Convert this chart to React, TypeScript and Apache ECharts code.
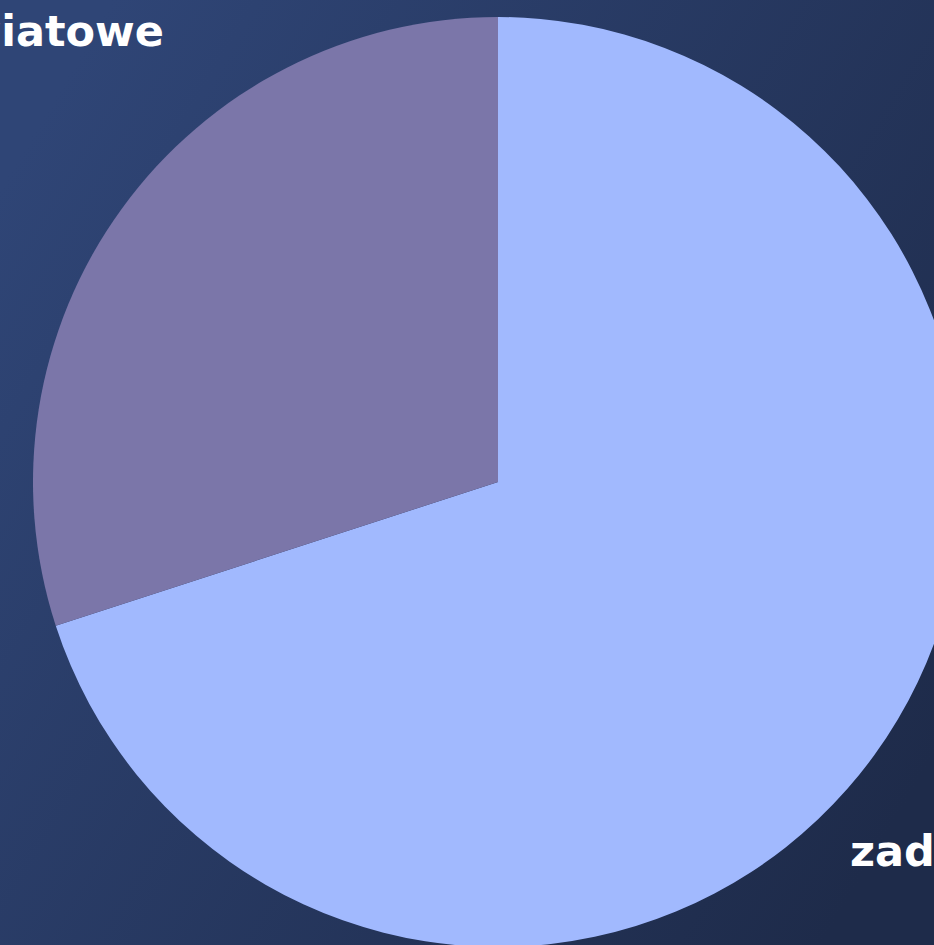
import React, { useEffect, useRef } from "react";
import * as echarts from "echarts";

const categories = ["zadania domowe", "Wydarzenia światowe"];
const values = [70, 30];
const colors = ["#a1b9fe", "#7b76a9"];

export default function App() {
  const ref = useRef<HTMLDivElement>(null);
  useEffect(() => {
    if (!ref.current) return;
    const chart = echarts.init(ref.current, null, { renderer: "svg" });
    chart.setOption({
      animation: false,
      backgroundColor: new echarts.graphic.LinearGradient(0, 0.2, 1, 0.8, [
        { offset: 0, color: "#2f4576" },
        { offset: 1, color: "#1e2b4a" },
      ]),
      series: [
        {
          type: "pie",
          center: [498, 482],
          radius: 465,
          startAngle: 90,
          clockwise: true,
          data: categories.map((name, i) => ({
            name,
            value: values[i],
            itemStyle: { color: colors[i] },
          })),
          label: {
            show: true,
            position: "inside",
            overflow: "none",
            color: "#ffffff",
            fontFamily: "'DejaVu Sans', sans-serif",
            fontWeight: "bold",
            fontSize: 43,
            formatter: "{b}",
          },
          labelLine: { show: false },
          labelLayout: (params: any) =>
            params.dataIndex === 0
              ? { x: 850, y: 851, align: "left", verticalAlign: "middle" }
              : { x: 164, y: 31, align: "right", verticalAlign: "middle" },
        },
      ],
    });
    return () => chart.dispose();
  }, []);
  return (
    <div
      ref={ref}
      style={{ position: "fixed", left: 0, top: 0, width: 934, height: 945 }}
    />
  );
}
